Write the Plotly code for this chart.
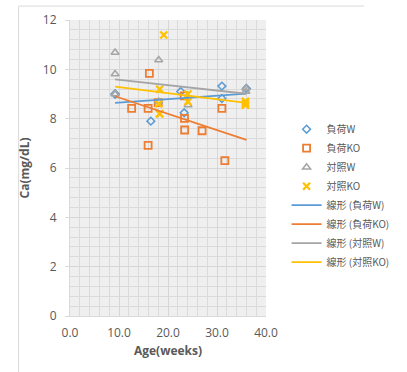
import numpy as np
import plotly.graph_objects as go

# ---- data ----
load_w_age = [9.2, 9.2, 16.5, 22.6, 23.3, 31.0, 31.0, 36.0]
load_w_ca = [9.0, 9.0, 7.9, 9.1, 8.24, 9.32, 8.82, 9.22]

load_ko_age = [12.58, 15.94, 15.94, 16.2, 18.0, 23.3, 23.36, 23.4, 26.96, 31.0, 31.6]
load_ko_ca = [8.42, 8.42, 6.92, 9.84, 8.65, 8.92, 8.01, 7.54, 7.51, 8.42, 6.3]

ctrl_w_age = [9.2, 9.2, 9.2, 9.2, 18.1, 18.1, 24.1, 35.9, 35.9]
ctrl_w_ca = [10.68, 9.81, 9.0, 9.0, 10.38, 8.7, 8.55, 9.23, 9.1]

ctrl_ko_age = [19.13, 18.3, 18.3, 18.3, 18.1, 24.06, 24.06, 35.8, 35.8, 35.8]
ctrl_ko_ca = [11.39, 9.19, 8.2, 8.2, 8.6, 9.0, 8.69, 8.62, 8.7, 8.55]

series_names = ["負荷W", "負荷KO", "対照W", "対照KO"]
colors = ["#5B9BD5", "#ED7D31", "#A5A5A5", "#FFC000"]

series = [
    (load_w_age, load_w_ca),
    (load_ko_age, load_ko_ca),
    (ctrl_w_age, ctrl_w_ca),
    (ctrl_ko_age, ctrl_ko_ca),
]

marker_styles = [
    dict(symbol="diamond-open", size=6, line=dict(width=1.5)),
    dict(symbol="square-open", size=7, line=dict(width=1.8)),
    dict(symbol="triangle-up-open", size=7, line=dict(width=1.5)),
    dict(symbol="x-thin-open", size=7, line=dict(width=2.3)),
]

fig = go.Figure()

for (xs, ys), name, col, ms in zip(series, series_names, colors, marker_styles):
    m = dict(ms)
    m["color"] = col
    m["line"] = dict(ms["line"], color=col)
    fig.add_trace(go.Scatter(x=xs, y=ys, mode="markers", name=name, marker=m))

all_x = np.concatenate([np.array(s[0]) for s in series])
x_lo, x_hi = all_x.min(), all_x.max()

for (xs, ys), name, col in zip(series, series_names, colors):
    slope, icpt = np.polyfit(xs, ys, 1)
    tx = np.array([x_lo, x_hi])
    fig.add_trace(go.Scatter(x=tx, y=slope * tx + icpt, mode="lines",
                             name=f"線形 ({name})",
                             line=dict(color=col, width=1.8)))

font_main = "Open Sans, Liberation Sans, Noto Sans CJK JP, sans-serif"

fig.update_layout(
    width=407, height=372,
    margin=dict(l=70, r=107, t=20, b=56),
    paper_bgcolor="white",
    plot_bgcolor="#efefef",
    font=dict(family=font_main, color="#595959", size=12),
    showlegend=True,
    legend=dict(
        x=1.105, xanchor="left", y=0.68, yanchor="top",
        font=dict(family="Noto Sans CJK JP, sans-serif", size=10, color="#595959"),
        bgcolor="rgba(0,0,0,0)", tracegroupgap=0, itemwidth=30,
    ),
    shapes=[dict(type="line", xref="paper", yref="paper",
                 x0=-0.262, x1=-0.262, y0=-0.25, y1=1.047,
                 line=dict(color="#d9d9d9", width=1)),
            dict(type="line", xref="paper", yref="paper",
                 x0=-0.262, x1=1.5, y0=1.047, y1=1.047,
                 line=dict(color="#d9d9d9", width=1))],
)

fig.update_xaxes(
    range=[0, 40], tick0=0, dtick=10, tickformat=".1f",
    showgrid=True, gridcolor="#d6d6d6", gridwidth=1,
    minor=dict(dtick=2, showgrid=True, gridcolor="#dadada", gridwidth=1),
    zeroline=False, showline=True, linecolor="#d9d9d9",
    ticks="", ticklabelstandoff=6,
    title=dict(text="<b>Age(weeks)</b>", font=dict(size=12, color="#595959"), standoff=6),
    tickfont=dict(size=12, color="#595959"),
)
fig.update_yaxes(
    range=[0, 12], tick0=0, dtick=2,
    showgrid=True, gridcolor="#d6d6d6", gridwidth=1,
    minor=dict(dtick=0.4, showgrid=True, gridcolor="#dadada", gridwidth=1),
    zeroline=False, showline=True, linecolor="#d9d9d9",
    ticks="outside", ticklen=4, tickcolor="#d9d9d9", ticklabelstandoff=6,
    title=dict(text="<b>Ca(mg/dL)</b>", font=dict(size=12, color="#595959"), standoff=10),
    tickfont=dict(size=12, color="#595959"),
)

fig.write_html("out.html")
